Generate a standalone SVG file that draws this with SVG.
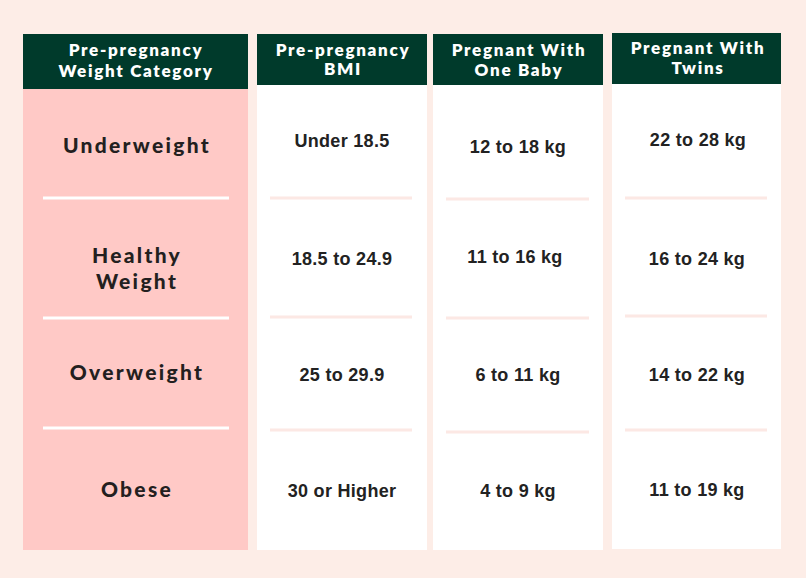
<svg xmlns="http://www.w3.org/2000/svg" width="806" height="578" viewBox="0 0 806 578">
<style>
.hdr{fill:#003a2b}
.hd{font-family:Lato,"Open Sans",sans-serif;font-weight:800;font-size:17px;fill:#ffffff;text-anchor:middle;letter-spacing:1.7px}
.cat{font-family:Lato,"Open Sans",sans-serif;font-weight:900;font-size:21px;fill:#231f20;text-anchor:middle;letter-spacing:2.3px}
.val{font-family:"Liberation Sans",Arial,sans-serif;font-weight:700;font-size:18px;fill:#222222;text-anchor:middle;letter-spacing:0.3px}
.sepw{stroke:#ffffff;stroke-width:3}
.sepp{stroke:#fce8e4;stroke-width:3}
</style>
<rect width="806" height="578" fill="#fdede7"/>
<g id="col-category">
<rect x="23" y="34" width="225" height="516" fill="#ffc9c6"/>
<rect class="hdr" x="23" y="34" width="225" height="55"/>
<text class="hd" x="136" y="56">Pre-pregnancy</text>
<text class="hd" x="136" y="77">Weight Category</text>
<line class="sepw" x1="43" y1="198" x2="229" y2="198"/>
<line class="sepw" x1="43" y1="318" x2="229" y2="318"/>
<line class="sepw" x1="43" y1="428" x2="229" y2="428"/>
<text class="cat" x="137" y="153">Underweight</text>
<text class="cat" x="137" y="263">Healthy</text>
<text class="cat" x="137" y="289">Weight</text>
<text class="cat" x="137" y="380">Overweight</text>
<text class="cat" x="137" y="497">Obese</text>
</g>
<g id="col-bmi">
<rect x="257" y="34" width="170" height="516" fill="#ffffff"/>
<rect class="hdr" x="257" y="34" width="170" height="51"/>
<text class="hd" x="343" y="56">Pre-pregnancy</text>
<text class="hd" x="343" y="75">BMI</text>
<line class="sepp" x1="270" y1="198" x2="412" y2="198"/>
<line class="sepp" x1="270" y1="317" x2="412" y2="317"/>
<line class="sepp" x1="270" y1="430" x2="412" y2="430"/>
<text class="val" x="342" y="147">Under 18.5</text>
<text class="val" x="342" y="265">18.5 to 24.9</text>
<text class="val" x="342" y="381">25 to 29.9</text>
<text class="val" x="342" y="497">30 or Higher</text>
</g>
<g id="col-one-baby">
<rect x="433" y="34" width="170" height="516" fill="#ffffff"/>
<rect class="hdr" x="433" y="34" width="170" height="51"/>
<text class="hd" x="519" y="56">Pregnant With</text>
<text class="hd" x="519" y="76">One Baby</text>
<line class="sepp" x1="446" y1="199" x2="589" y2="199"/>
<line class="sepp" x1="446" y1="318" x2="589" y2="318"/>
<line class="sepp" x1="446" y1="432" x2="589" y2="432"/>
<text class="val" x="518" y="153">12 to 18 kg</text>
<text class="val" x="515" y="263">11 to 16 kg</text>
<text class="val" x="518" y="381">6 to 11 kg</text>
<text class="val" x="518" y="497">4 to 9 kg</text>
</g>
<g id="col-twins">
<rect x="612" y="33" width="169" height="516" fill="#ffffff"/>
<rect class="hdr" x="612" y="33" width="169" height="51"/>
<text class="hd" x="698" y="54">Pregnant With</text>
<text class="hd" x="698" y="74">Twins</text>
<line class="sepp" x1="625" y1="198" x2="767" y2="198"/>
<line class="sepp" x1="625" y1="316" x2="767" y2="316"/>
<line class="sepp" x1="625" y1="430" x2="767" y2="430"/>
<text class="val" x="698" y="146">22 to 28 kg</text>
<text class="val" x="697" y="265">16 to 24 kg</text>
<text class="val" x="697" y="381">14 to 22 kg</text>
<text class="val" x="697" y="496">11 to 19 kg</text>
</g>
</svg>
